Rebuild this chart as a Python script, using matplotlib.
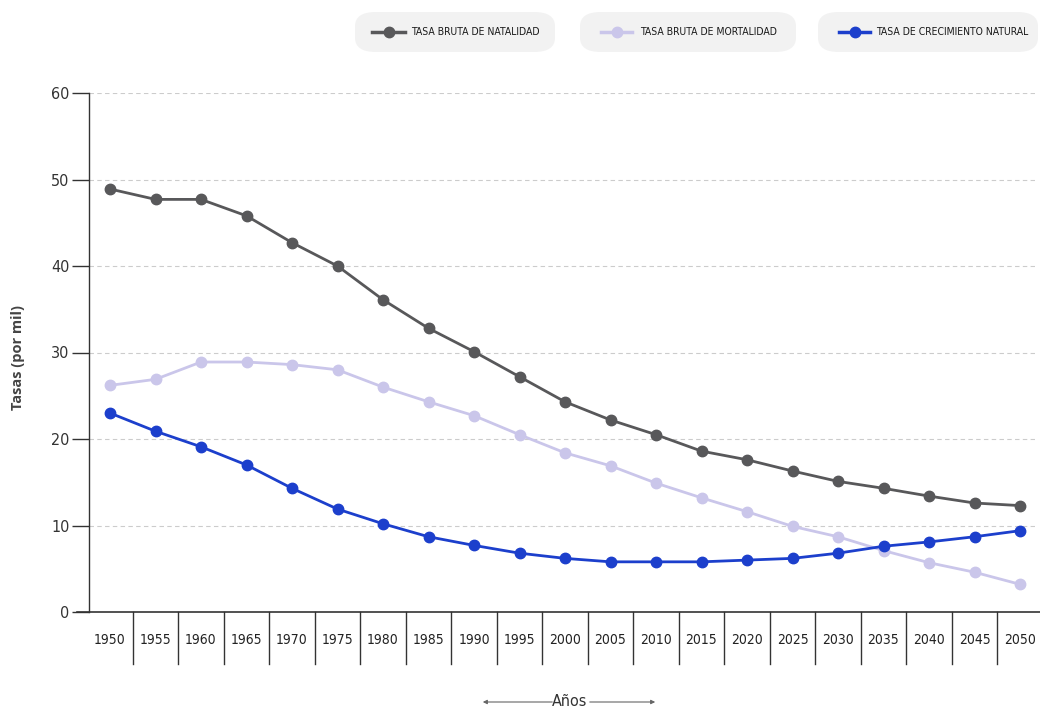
import matplotlib
matplotlib.use("Agg")
import matplotlib.pyplot as plt
from matplotlib.lines import Line2D
from matplotlib.patches import FancyBboxPatch, FancyArrowPatch
from matplotlib import font_manager

years = [1950, 1955, 1960, 1965, 1970, 1975, 1980, 1985, 1990, 1995, 2000,
         2005, 2010, 2015, 2020, 2025, 2030, 2035, 2040, 2045, 2050]
natalidad = [48.9, 47.7, 47.7, 45.8, 42.7, 40.0, 36.1, 32.8, 30.1, 27.2, 24.3,
             22.2, 20.5, 18.6, 17.6, 16.3, 15.1, 14.3, 13.4, 12.6, 12.3]
mortalidad = [26.2, 26.9, 28.9, 28.9, 28.6, 28.0, 26.0, 24.3, 22.7, 20.5, 18.4,
              16.9, 14.9, 13.2, 11.6, 9.9, 8.7, 7.1, 5.7, 4.6, 3.2]
crecimiento = [23.0, 20.9, 19.1, 17.0, 14.3, 11.9, 10.2, 8.7, 7.7, 6.8, 6.2,
               5.8, 5.8, 5.8, 6.0, 6.2, 6.8, 7.6, 8.1, 8.7, 9.4]
series_names = ["TASA BRUTA DE NATALIDAD", "TASA BRUTA DE MORTALIDAD",
                "TASA DE CRECIMIENTO NATURAL"]
series_colors = ["#58585a", "#cac6ea", "#1c3fcc"]
yticks = [0, 10, 20, 30, 40, 50, 60]

flist = font_manager.fontManager.ttflist
if any(f.name == "Liberation Sans Narrow" for f in flist):
    NFAM, NSTR = "Liberation Sans Narrow", "normal"
elif any(f.name == "DejaVu Sans" and "ondensed" in f.fname for f in flist):
    NFAM, NSTR = "DejaVu Sans", "condensed"
else:
    NFAM, NSTR = "Roboto", "normal"

def ntext(**kw):
    return dict(family=NFAM, fontstretch=NSTR, **kw)

W, H = 1040, 711
fig = plt.figure(figsize=(W / 100, H / 100), dpi=100)
fig.patch.set_facecolor("white")

def fx(px):
    return px / W

def fy(py):
    return 1 - py / H

ax_left, ax_right, ax_top, ax_bottom = 89, 1035, 93, 612
ax = fig.add_axes([fx(ax_left), fy(ax_bottom), fx(ax_right - ax_left), fy(ax_top) - fy(ax_bottom)])
ax.set_facecolor("none")
step = 45.5
x0 = (ax_left - 110) / step
x1 = (ax_right - 110) / step
ax.set_xlim(x0, x1)
ax.set_ylim(0, 60)

xs = list(range(len(years)))
for vals, col in zip([natalidad, mortalidad, crecimiento], series_colors):
    ax.plot(xs, vals, color=col, lw=2.0, marker="o", ms=7.5, mec=col, mfc=col, zorder=3,
            clip_on=False)

for s in ["top", "right", "bottom"]:
    ax.spines[s].set_visible(False)
ax.spines["left"].set_color("#333333")
ax.spines["left"].set_linewidth(1.0)

ax.set_yticks(yticks)
ax.set_yticklabels([str(v) for v in yticks])
for lab in ax.get_yticklabels():
    lab.set_fontsize(11.5)
    lab.set_color("#333333")
    lab.set_family(NFAM)
    lab.set_fontstretch(NSTR)
ax.tick_params(axis="y", length=12, width=1.0, color="#333333", pad=2)
for v in yticks[1:]:
    ax.axhline(v, color="#cccccc", lw=0.8, ls=(0, (4, 3)), zorder=1)
ax.set_xticks([])

# bottom axis line and category boxes
fig.add_artist(Line2D([fx(77), fx(1040)], [fy(612), fy(612)], color="#333333", lw=1.2))
for i in range(len(years) - 1):
    xp = 110 + (i + 0.5) * step
    fig.add_artist(Line2D([fx(xp), fx(xp)], [fy(612), fy(664)], color="#333333", lw=1.0))
for i, yr in enumerate(years):
    xp = 110 + i * step
    fig.text(fx(xp), fy(640), str(yr), ha="center", va="center",
             **ntext(fontsize=10, color="#222222"))

# y label
fig.text(fx(18), fy(357), "Tasas (por mil)", rotation=90, ha="center", va="center",
         fontsize=10.5, color="#444444", fontweight="bold", family="Open Sans")

# x label with arrows
fig.text(fx(570), fy(702), "Años", ha="center", va="center",
         **ntext(fontsize=11.5, color="#333333"))
for a, b in [(555, 480), (587, 658)]:
    fig.add_artist(FancyArrowPatch((fx(a), fy(702)), (fx(b), fy(702)),
                                   transform=fig.transFigure, arrowstyle="-|>",
                                   mutation_scale=6, color="#666666", lw=0.8))

# legend
boxes = [(355, 555), (580, 796), (818, 1038)]
markers = [(372, 405), (601, 632), (839, 870)]
texts = [411, 640, 876]
for (bl, br), (ml, mr), tx, name, col in zip(boxes, markers, texts, series_names, series_colors):
    p = FancyBboxPatch((fx(bl), fy(52)), fx(br - bl), fy(12) - fy(52),
                       boxstyle="round,pad=0,rounding_size=0.02",
                       transform=fig.transFigure, facecolor="#f2f2f2", edgecolor="none")
    fig.add_artist(p)
    fig.add_artist(Line2D([fx(ml), fx(mr)], [fy(32), fy(32)], color=col, lw=2.5))
    fig.add_artist(Line2D([fx((ml + mr) / 2)], [fy(32)], color=col, marker="o", ms=7.5,
                          mec=col, mfc=col))
    fig.text(fx(tx), fy(32), name, ha="left", va="center",
             **ntext(fontsize=7.5, color="#1a1a1a"))

fig.savefig("out.png", dpi=100, facecolor="white")
